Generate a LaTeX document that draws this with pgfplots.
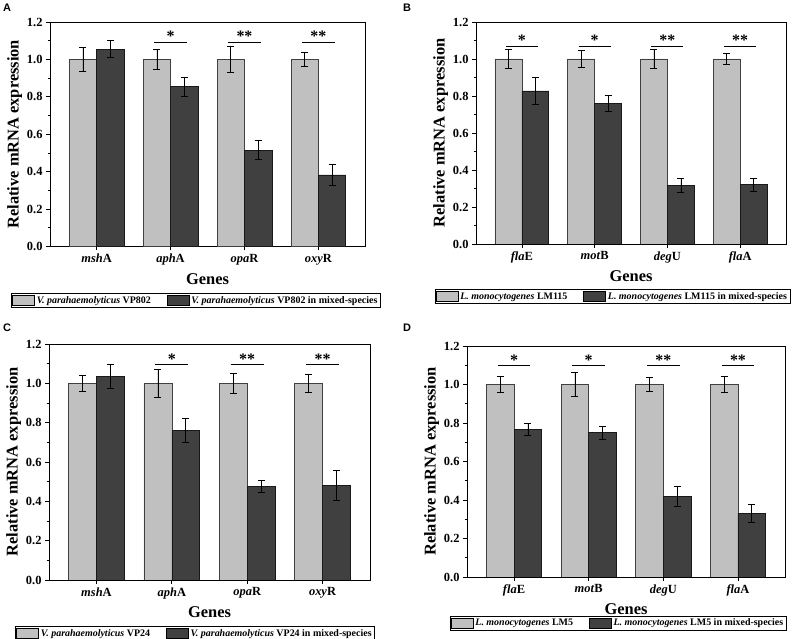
\documentclass[border=0pt]{standalone}
\usepackage{fontspec}
\setmainfont{Liberation Serif}
\newfontfamily\labelsans{Liberation Sans}
\usepackage{pgfplots}
\pgfplotsset{compat=1.18}

\definecolor{lightbar}{RGB}{192,192,192}
\definecolor{darkbar}{RGB}{64,64,64}

\pgfplotsset{
  panel/.style={
    scale only axis,
    anchor=south west,
    ybar, bar width=0.37,
    ymin=0, ymax=1.2,
    xmin=-0.63, xmax=3.63,
    xtick={0,1,2,3},
    ytick={0,0.2,0.4,0.6,0.8,1.0,1.2},
    minor y tick num=1,
    tick align=outside,
    xtick pos=bottom, ytick pos=left,
    major tick length=4bp, minor tick length=2.5bp,
    tick style={black, line width=0.7pt},
    /pgf/number format/assume math mode=true,
    yticklabel style={/pgf/number format/fixed, /pgf/number format/fixed zerofill, /pgf/number format/precision=1},
    ticklabel style={font=\fontsize{12.5}{14}\selectfont\bfseries},
    ylabel={Relative mRNA expression},
    xlabel={Genes},
    ylabel style={font=\fontsize{16.5}{18}\selectfont\bfseries, yshift=-2bp},
    xlabel style={font=\fontsize{16.5}{18}\selectfont\bfseries, yshift=-1bp},
    axis line style={black, line width=0.8pt},
    legend columns=2,
    legend cell align=left,
    legend style={draw=black, line width=0.5pt, fill=white,
      font=\fontsize{10}{10.5}\selectfont\bfseries,
      inner sep=1bp, anchor=north,
      /tikz/every even column/.append style={column sep=14bp}},
    legend image code/.code={\draw[#1, draw=black, line width=0.5pt] (0bp,-5bp) rectangle (22bp,5.5bp);},
  },
  lbar/.style={fill=lightbar, draw=black!75, line width=0.6pt, bar shift=0pt,
    error bars/.cd, y dir=both, y explicit,
    error bar style={black, line width=0.7pt},
    error mark options={rotate=90, mark size=3.5bp, black, line width=0.7pt}},
  dbar/.style={fill=darkbar, draw=black!90, line width=0.6pt, bar shift=0pt,
    error bars/.cd, y dir=both, y explicit,
    error bar style={black, line width=0.7pt},
    error mark options={rotate=90, mark size=3.5bp, black, line width=0.7pt}},
}

\newcommand{\sig}[3]{%
  \draw[black, line width=0.8pt] (axis cs:#1-0.22,#2) -- (axis cs:#1+0.22,#2);
  \node[font=\fontsize{16}{16}\selectfont\bfseries, inner sep=0pt, anchor=south] at (axis cs:#1,#2) [yshift=0bp] {#3};}

\begin{document}
\begin{tikzpicture}[x=1bp,y=1bp]
\path[use as bounding box] (0,0) rectangle (800,639);

% ---------------- A ----------------
\begin{axis}[panel, at={(50bp,392.5bp)}, width=315bp, height=224.5bp,
  xticklabels={\textit{msh}A, \textit{aph}A, \textit{opa}R, \textit{oxy}R},
  legend style={at={(0.463,-0.207)}}]
\addplot[lbar] table[x=x, y=y, y error=e] {
x y e
-0.185 1.000 0.062
0.815 1.000 0.053
1.815 1.000 0.070
2.815 1.000 0.037
};
\addlegendentry{\textit{V. parahaemolyticus} VP802}
\addplot[dbar] table[x=x, y=y, y error=e] {
x y e
0.185 1.055 0.045
1.185 0.855 0.050
2.185 0.515 0.050
3.185 0.383 0.055
};
\addlegendentry{\textit{V. parahaemolyticus} VP802 in mixed-species}
\sig{1}{1.093}{*}
\sig{2}{1.093}{**}
\sig{3}{1.093}{**}
\end{axis}

% ---------------- B ----------------
\begin{axis}[panel, at={(476bp,395bp)}, width=310bp, height=222bp,
  xticklabels={\textit{fla}E, \textit{mot}B, \textit{deg}U, \textit{fla}A},
  legend style={at={(0.44,-0.203)}}]
\addplot[lbar] table[x=x, y=y, y error=e] {
x y e
-0.185 1.000 0.050
0.815 1.000 0.045
1.815 1.000 0.050
2.815 1.000 0.030
};
\addlegendentry{\textit{L. monocytogenes} LM115}
\addplot[dbar] table[x=x, y=y, y error=e] {
x y e
0.185 0.828 0.072
1.185 0.760 0.045
2.185 0.316 0.038
3.185 0.320 0.037
};
\addlegendentry{\textit{L. monocytogenes} LM115 in mixed-species}
\sig{0}{1.07}{*}
\sig{1}{1.07}{*}
\sig{2}{1.07}{**}
\sig{3}{1.07}{**}
\end{axis}

% ---------------- C ----------------
\begin{axis}[panel, at={(49bp,59bp)}, width=321bp, height=236bp,
  xticklabels={\textit{msh}A, \textit{aph}A, \textit{opa}R, \textit{oxy}R},
  legend style={at={(0.455,-0.195)}}]
\addplot[lbar] table[x=x, y=y, y error=e] {
x y e
-0.185 1.000 0.040
0.815 1.000 0.070
1.815 1.000 0.050
2.815 1.000 0.048
};
\addlegendentry{\textit{V. parahaemolyticus} VP24}
\addplot[dbar] table[x=x, y=y, y error=e] {
x y e
0.185 1.035 0.062
1.185 0.760 0.060
2.185 0.477 0.032
3.185 0.482 0.076
};
\addlegendentry{\textit{V. parahaemolyticus} VP24 in mixed-species}
\sig{1}{1.096}{*}
\sig{2}{1.096}{**}
\sig{3}{1.096}{**}
\end{axis}

% ---------------- D ----------------
\begin{axis}[panel, at={(467bp,62bp)}, width=318bp, height=231bp,
  xticklabels={\textit{fla}E, \textit{mot}B, \textit{deg}U, \textit{fla}A},
  legend style={at={(0.475,-0.168)}}]
\addplot[lbar] table[x=x, y=y, y error=e] {
x y e
-0.185 1.000 0.042
0.815 1.000 0.062
1.815 1.000 0.036
2.815 1.000 0.042
};
\addlegendentry{\textit{L. monocytogenes} LM5}
\addplot[dbar] table[x=x, y=y, y error=e] {
x y e
0.185 0.768 0.032
1.185 0.750 0.034
2.185 0.418 0.052
3.185 0.330 0.045
};
\addlegendentry{\textit{L. monocytogenes} LM5 in mixed-species}
\sig{0}{1.10}{*}
\sig{1}{1.10}{*}
\sig{2}{1.10}{**}
\sig{3}{1.10}{**}
\end{axis}

\node[font=\labelsans\bfseries\fontsize{11}{11}\selectfont] at (7,631) {A};
\node[font=\labelsans\bfseries\fontsize{11}{11}\selectfont] at (407,631) {B};
\node[font=\labelsans\bfseries\fontsize{11}{11}\selectfont] at (7,311) {C};
\node[font=\labelsans\bfseries\fontsize{11}{11}\selectfont] at (407,311) {D};
\end{tikzpicture}
\end{document}
